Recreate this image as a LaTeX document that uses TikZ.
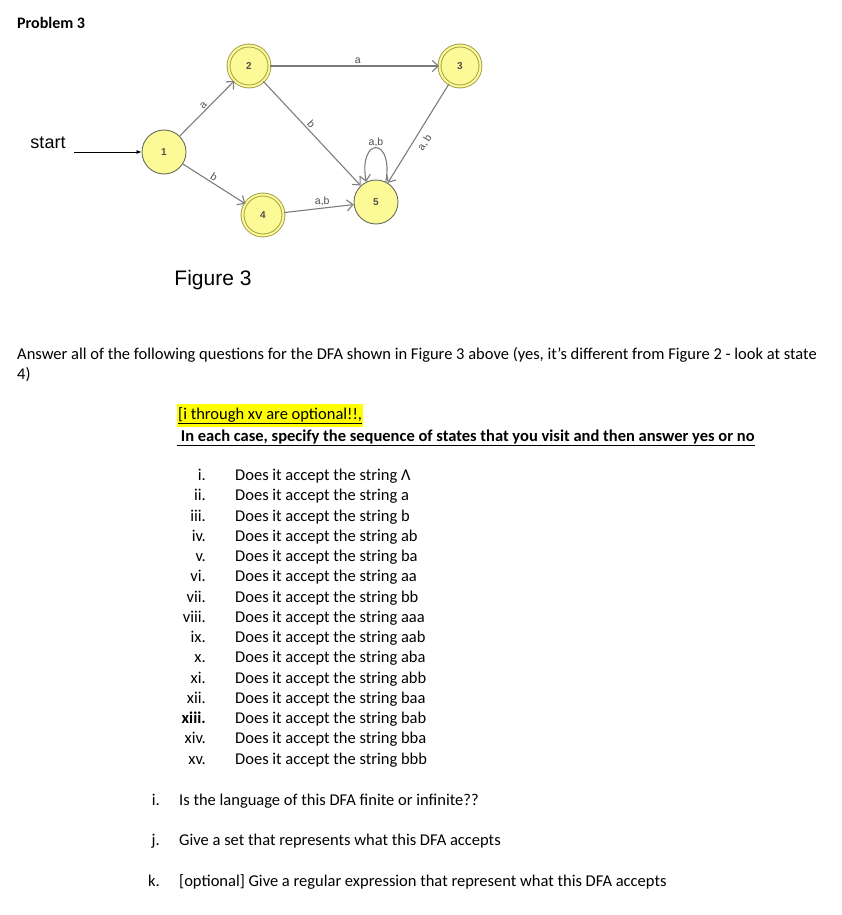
\documentclass[tikz,border=0pt]{standalone}
\usepackage{fontspec}
\setmainfont{Carlito}
\newfontfamily\figfont{Liberation Sans}
\usetikzlibrary{arrows.meta}
\definecolor{statefill}{RGB}{252,250,150}
\definecolor{stateline}{RGB}{105,105,95}
\definecolor{acceptline}{RGB}{160,155,70}
\definecolor{edgegray}{RGB}{125,125,125}
\definecolor{labelgray}{RGB}{80,80,80}
\definecolor{markyellow}{RGB}{255,255,0}

\begin{document}
\begin{tikzpicture}[x=1pt,y=1pt]
  \tikzset{dfastate/.style={circle,fill=statefill,draw=stateline,line width=0.9pt,minimum size=44pt,inner sep=0pt,
      font=\figfont\fontsize{10}{12}\selectfont\bfseries,text=labelgray}}
  \tikzset{dfaaccept/.style={dfastate,draw=acceptline,double=statefill,double distance=2pt,minimum size=41pt}}
  \tikzset{dfaedge/.style={draw=edgegray,line width=1.1pt,-{Straight Barb[length=6pt,width=11pt]}}}
  \tikzset{edgelabel/.style={font=\figfont\fontsize{10.5}{12}\selectfont,text=labelgray,inner sep=1.5pt}}
  \tikzset{bodytext/.style={anchor=base west,inner sep=0pt,font=\fontsize{16.5}{19}\selectfont}}
  \tikzset{numtext/.style={anchor=base east,inner sep=0pt,font=\fontsize{16.5}{19}\selectfont}}
  \useasboundingbox (0,0) rectangle (841,-915);
  \node[bodytext,font=\fontsize{16}{19}\selectfont\bfseries] (title) at (17,-29) {Problem 3};
  % the automaton
  \node[dfastate] (q1) at (164,-152) {1};
  \node[dfaaccept] (q2) at (249,-66) {2};
  \node[dfaaccept] (q3) at (460,-66) {3};
  \node[dfaaccept] (q4) at (263,-215) {4};
  \node[dfastate] (q5) at (376,-202) {5};
  \node[anchor=base,inner sep=0pt,font=\figfont\fontsize{18}{20}\selectfont] (startlbl) at (48,-149) {start};
  \coordinate (startpt) at (74,-152);
  \draw[black,line width=0.8pt,-{Latex[length=5pt,width=4pt]}] (startpt) -- (q1);
  \draw[dfaedge] (q1) -- node[edgelabel,sloped,above] (l12) {a} (q2);
  \draw[dfaedge] (q1) -- node[edgelabel,sloped,above,pos=0.45] (l14) {b} (q4);
  \draw[dfaedge] (q2) -- node[edgelabel,above,pos=0.52] (l23) {a} (q3);
  \draw[dfaedge] (q2) -- node[edgelabel,sloped,above,pos=0.45] (l25) {b} (q5);
  \draw[dfaedge] (q3) -- node[edgelabel,sloped,below=4pt,pos=0.54] (l35) {a, b} (q5);
  \draw[dfaedge] (q4) -- node[edgelabel,above,pos=0.55] (l45) {a,b} (q5);
  \draw[dfaedge] (q5.64) .. controls +(80:46) and +(100:46) .. node[edgelabel,above=-1.5pt] (l55) {a,b} (q5.116);
  \node[anchor=base,inner sep=0pt,font=\figfont\fontsize{21}{24}\selectfont] (figlbl) at (213,-285) {Figure 3};
  % the questions
  \node[bodytext] (intro1) at (17,-359) {Answer all of the following questions for the DFA shown in Figure 3 above (yes, it's different from Figure 2 - look at state};
  \node[bodytext] (intro2) at (17,-379) {4)};
  \node[bodytext,fill=markyellow,inner ysep=3pt,inner xsep=1pt] (optnote) at (177,-419) {\underline{[i through xv are optional!!,}};
  \node[bodytext,font=\fontsize{16.5}{19}\selectfont\bfseries] (casenote) at (177,-441) {\underline{\ In each case, specify the sequence of states that you visit and then answer yes or no}};
  \foreach \num/\str [count=\k] in {i./\char"039B,ii./a,iii./b,iv./ab,v./ba,vi./aa,vii./bb,viii./aaa,ix./aab,x./aba,xi./abb,xii./baa,xiii./bab,xiv./bba,xv./bbb}
  {
    \node[numtext] (num\k) at (206,-480.5-20.25*\k+20.25) {\ifnum\k=13 \bfseries\fi\num};
    \node[bodytext] (item\k) at (235,-480.5-20.25*\k+20.25) {Does it accept the string \str};
  }
  \node[numtext] (numi) at (160,-805) {i.};
  \node[bodytext] (qi) at (179,-805) {Is the language of this DFA finite or infinite??};
  \node[numtext] (numj) at (160,-845) {j.};
  \node[bodytext] (qj) at (179,-845) {Give a set that represents what this DFA accepts};
  \node[numtext] (numk) at (160,-886) {k.};
  \node[bodytext] (qk) at (179,-886) {[optional] Give a regular expression that represent what this DFA accepts};
\end{tikzpicture}
\end{document}
